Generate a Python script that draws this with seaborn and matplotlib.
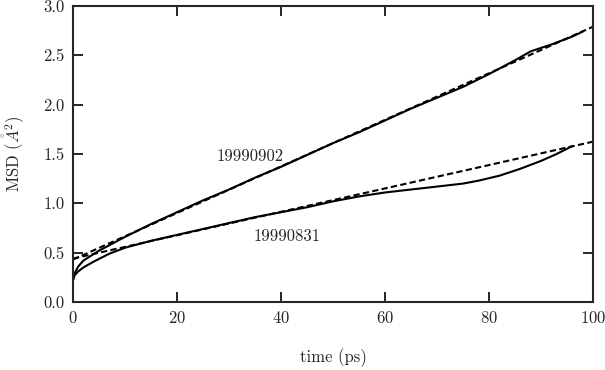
import numpy as np
import pandas as pd
import matplotlib
matplotlib.use("Agg")
import matplotlib.pyplot as plt
import seaborn as sns

# MSD curves
t_0902 = [0, 0.2, 1, 2, 5, 10, 15, 20, 25, 30, 35, 40, 45, 50, 55, 60,
          65, 70, 75, 80, 85, 88, 92, 96, 98]
msd_0902 = [0.22, 0.28, 0.36, 0.42, 0.52, 0.66, 0.79, 0.91, 1.03, 1.14,
            1.26, 1.37, 1.49, 1.61, 1.72, 1.84, 1.96, 2.07, 2.18, 2.31,
            2.45, 2.54, 2.61, 2.69, 2.74]

t_0831 = [0, 0.3, 1, 2, 4, 7, 10, 15, 20, 25, 30, 35, 40, 45, 50, 55, 60,
          65, 70, 75, 78, 82, 86, 90, 93, 96]
msd_0831 = [0.22, 0.27, 0.31, 0.35, 0.41, 0.49, 0.55, 0.62, 0.68, 0.74,
            0.80, 0.86, 0.91, 0.96, 1.02, 1.07, 1.11, 1.14, 1.17, 1.20,
            1.23, 1.28, 1.35, 1.43, 1.50, 1.58]

# linear fits (end points)
fit_t = [0, 100]
fit_0902 = [0.43, 2.79]
fit_0831 = [0.44, 1.625]

labels = ["19990902", "19990831"]

sns.set_style("ticks")
plt.rcParams["font.family"] = ["cmr10", "DejaVu Serif"]
plt.rcParams["mathtext.fontset"] = "cm"
plt.rcParams["axes.unicode_minus"] = False
plt.rcParams["axes.formatter.use_mathtext"] = True

fig = plt.figure(figsize=(6.05, 3.7), dpi=100)
ax = fig.add_axes([0.1207, 0.1838, 0.8595, 0.80])

lw = 1.5
sns.lineplot(x=t_0902, y=msd_0902, ax=ax, color="black", lw=lw, sort=False)
sns.lineplot(x=t_0831, y=msd_0831, ax=ax, color="black", lw=lw, sort=False)
for f in (fit_0902, fit_0831):
    sns.lineplot(x=fit_t, y=f, ax=ax, color="black", lw=lw,
                 linestyle=(0, (3, 1.6)))

fs = 12
ax.text(34, 1.48, labels[0], ha="center", va="center", fontsize=fs)
ax.text(41.2, 0.67, labels[1], ha="center", va="center", fontsize=fs)

ax.set_xlim(0, 100)
ax.set_ylim(0, 3.0)
ax.set_xticks(np.arange(0, 101, 20))
ax.set_yticks(np.arange(0, 3.01, 0.5))
ax.set_yticklabels([f"{v:.1f}" for v in np.arange(0, 3.01, 0.5)])
ax.tick_params(direction="in", length=7, width=1.4, top=True, right=True,
               labelsize=fs, pad=6)
for s in ax.spines.values():
    s.set_linewidth(1.5)

ax.set_xlabel("time (ps)", fontsize=fs, labelpad=16)
ax.set_ylabel(r"MSD ($\mathring{A}^2$)", fontsize=fs, labelpad=12)

fig.savefig("out.png", dpi=100)
